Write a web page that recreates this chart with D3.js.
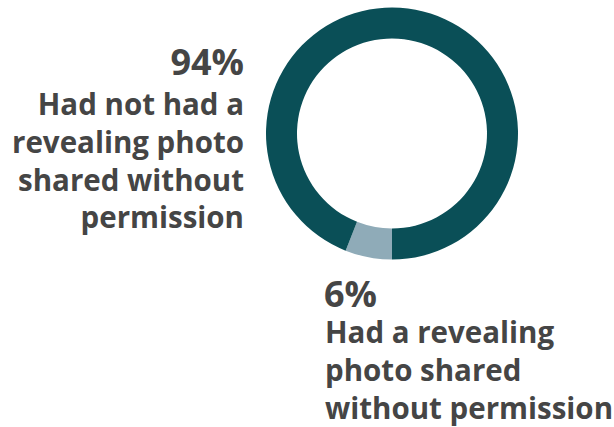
<!DOCTYPE html>
<html>
<head>
<meta charset="utf-8">
<script src="https://cdn.jsdelivr.net/npm/d3@7"></script>
<style>
  body { margin: 0; background: #fff; }
  text { font-family: "Open Sans", "Noto Sans", sans-serif; font-weight: 700; fill: #454545; }
</style>
</head>
<body>
<div id="chart"></div>
<script>
const categories = ['Had a revealing photo shared without permission', 'Had not had a revealing photo shared without permission']
const values = [6, 94]
const colors = ['#8fabb8', '#0a4f57']
const percentLabels = ['6%', '94%']
const labelLines = [
  ['Had a revealing', 'photo shared', 'without permission'],
  ['Had not had a', 'revealing photo', 'shared without', 'permission']
]

const width = 614
const height = 427
const cx = 392
const cy = 133.5
const outerR = 126
const innerR = 95

const svg = d3.select('#chart')
  .append('svg')
  .attr('width', width)
  .attr('height', height)

// small slice first, starting at the bottom of the ring and going clockwise
const pie = d3.pie().sort(null).startAngle(Math.PI).endAngle(3 * Math.PI)
const arc = d3.arc().innerRadius(innerR).outerRadius(outerR)

const data = categories.map((c, i) => ({ name: c, value: values[i] }))

svg.append('g')
  .attr('transform', `translate(${cx}, ${cy})`)
  .selectAll('path')
  .data(pie.value(d => d.value)(data))
  .enter()
  .append('path')
  .attr('d', arc)
  .attr('fill', (d, i) => colors[i])

const lineGap = 37.8

// label for the big slice, right aligned left of the ring
const left = svg.append('g').attr('text-anchor', 'end')
left.append('text')
  .attr('x', 244).attr('y', 75)
  .style('font-size', '36px')
  .text(percentLabels[1])
labelLines[1].forEach((line, i) => {
  left.append('text')
    .attr('x', 244).attr('y', 115 + i * lineGap)
    .style('font-size', '29.5px')
    .text(line)
})

// label for the small slice, under the ring
const right = svg.append('g').attr('text-anchor', 'start')
right.append('text')
  .attr('x', 324).attr('y', 307)
  .style('font-size', '36px')
  .text(percentLabels[0])
labelLines[0].forEach((line, i) => {
  right.append('text')
    .attr('x', 325).attr('y', 343 + i * lineGap)
    .style('font-size', '29.5px')
    .text(line)
})
</script>
</body>
</html>
